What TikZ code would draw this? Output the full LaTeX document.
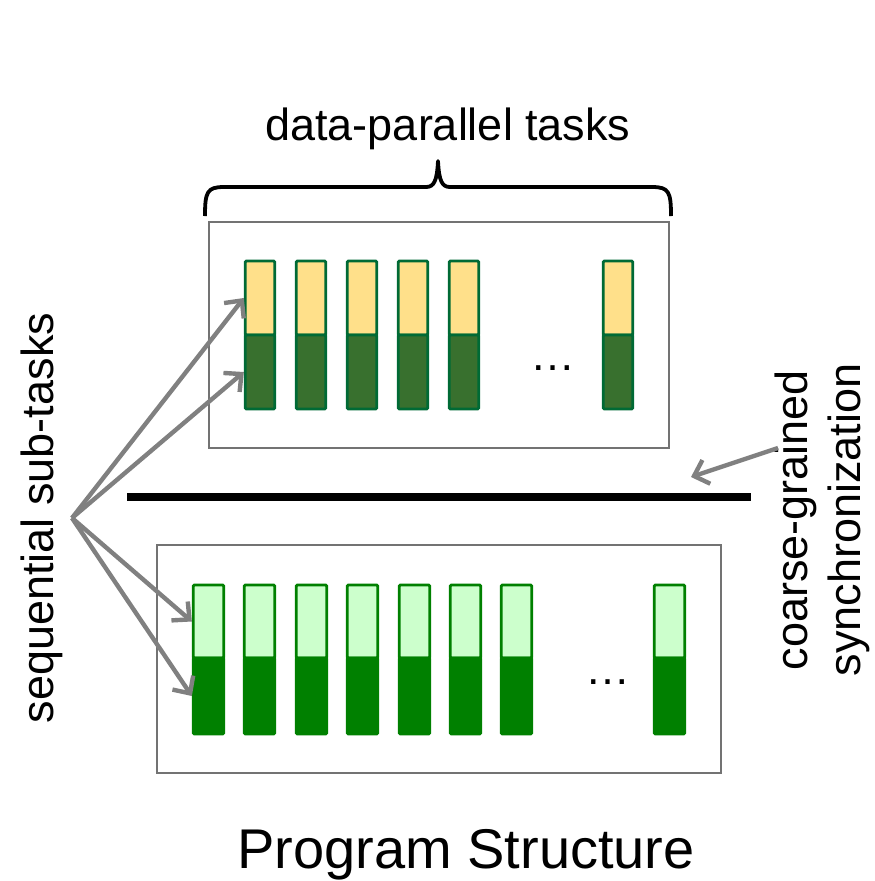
\documentclass[tikz,border=0pt]{standalone}
\usepackage{fontspec}
\setmainfont{Liberation Sans}
\usetikzlibrary{arrows.meta}
\definecolor{taskgreen}{HTML}{006A35}
\definecolor{lightamber}{HTML}{FFE08A}
\definecolor{olivegreen}{HTML}{38702E}
\definecolor{palegreen}{HTML}{CCFFCC}
\definecolor{puregreen}{HTML}{008000}
\definecolor{arrowgray}{HTML}{808080}
\tikzset{
  bar/.style={rectangle, line width=2.8pt, rounded corners=1.2pt, inner sep=0pt},
  tupper/.style={bar, draw=taskgreen, fill=lightamber, minimum width=29.5pt, minimum height=74pt},
  tlower/.style={bar, draw=taskgreen, fill=olivegreen, minimum width=29.5pt, minimum height=74pt},
  bupper/.style={bar, draw=puregreen, fill=palegreen, minimum width=30.5pt, minimum height=73pt},
  blower/.style={bar, draw=puregreen, fill=puregreen, minimum width=30.5pt, minimum height=76pt},
  group/.style={draw=black!55, line width=1.3pt},
  label/.style={font=\fontsize{45}{53}\selectfont, inner sep=0pt},
  pointer/.style={draw=arrowgray, line width=4.4pt,
    -{Straight Barb[length=13pt, width=25pt, line width=4.4pt]}},
}
\begin{document}
\begin{tikzpicture}[x=1pt, y=-1pt]
\useasboundingbox (0,0) rectangle (875,881);

% frames round the two phases
\draw[group] (209,222) rectangle (669,448);
\draw[group] (157,545) rectangle (721,773);

% first phase: data-parallel tasks
\foreach \x [count=\i] in {244,295,346,397,448,602} {
  \node[tupper] (tu\i) at (\x+16, 298) {};
  \node[tlower] (tl\i) at (\x+16, 372) {};
}
\node[label, anchor=base] (tdots) at (553, 370) {…};

% second phase
\foreach \x [count=\i] in {192,243,295,346,398,449,500,653} {
  \node[bupper] (bu\i) at (\x+16.5, 621.5) {};
  \node[blower] (bl\i) at (\x+16.5, 696) {};
}
\node[label, anchor=base] (bdots) at (608, 684) {…};

% synchronisation barrier
\coordinate (syncL) at (127,497);
\coordinate (syncR) at (751,497);
\draw[line width=8pt] (syncL) -- (syncR);

% brace over the tasks
\draw[line width=3.8pt, line join=round]
  (205,216) .. controls (205,192) and (207,187) .. (224,187)
  -- (426,187) .. controls (434,187) and (437,181) .. (438,161)
  .. controls (439,181) and (442,187) .. (450,187)
  -- (652,187) .. controls (669,187) and (671,192) .. (671,216);

% labels
\node[label, anchor=base] (dpt) at (448, 140) {data-parallel tasks};
\node[label, rotate=90] (seq) at (42, 518) {sequential sub-tasks};
\node[label, rotate=90, align=center] (coarse) at (822, 520)
  {coarse-grained\\synchronization};
\node[font=\fontsize{56}{62}\selectfont, inner sep=0pt, anchor=base] (title)
  at (466, 868) {Program Structure};

% pointers to the sub-tasks
\coordinate (src) at (72,518);
\draw[pointer] (src) -- (tu1.west);
\draw[pointer] (src) -- (tl1.west);
\draw[pointer] (src) -- (bu1.west);
\draw[pointer] (src) -- (bl1.west);

% pointer to the barrier
\coordinate (cgfrom) at (778,448);
\coordinate (cgto) at (691,477);
\draw[pointer] (cgfrom) -- (cgto);
\end{tikzpicture}
\end{document}
